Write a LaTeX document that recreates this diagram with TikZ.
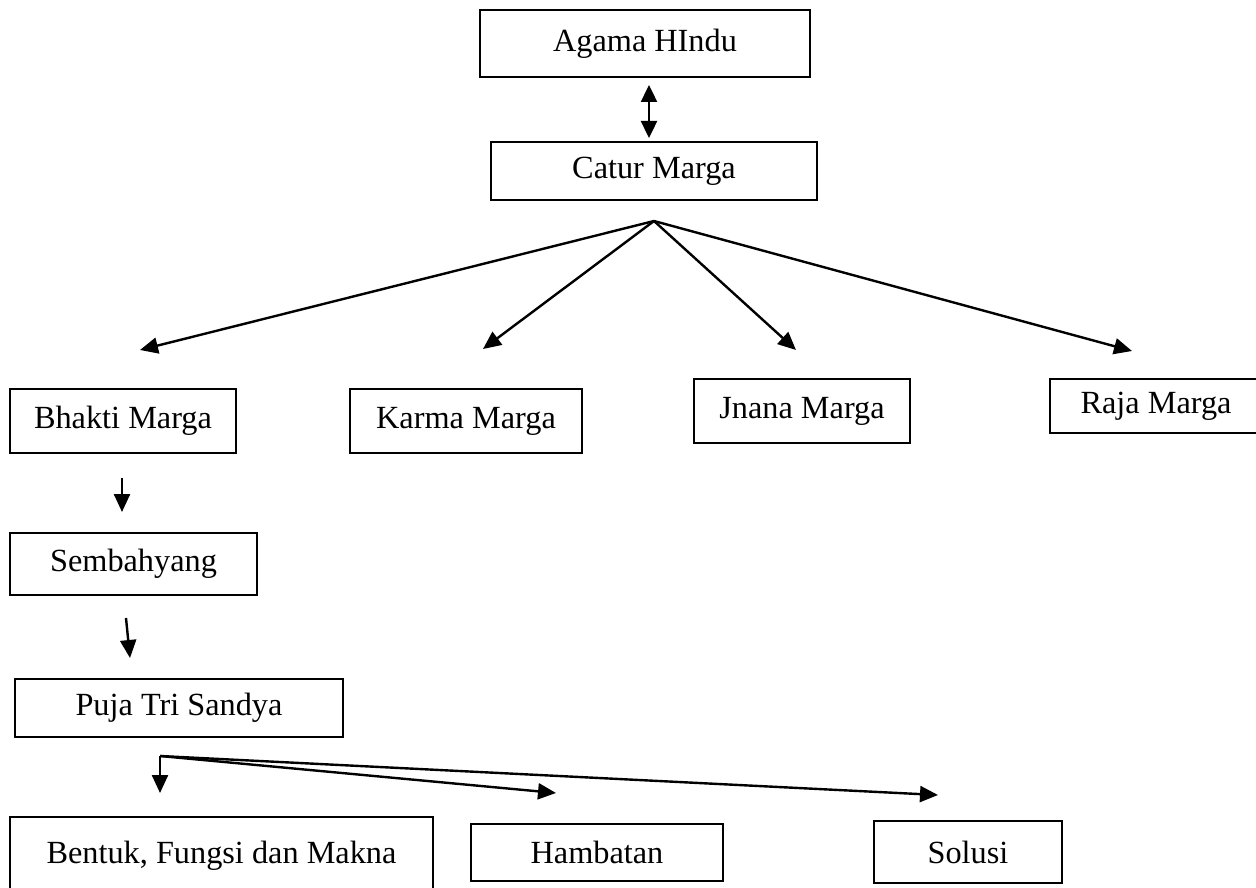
\documentclass[tikz,border=0pt]{standalone}
\usepackage{fontspec}
\setmainfont{Liberation Serif}
\usetikzlibrary{arrows.meta}
\tikzset{
  box/.style={draw, line width=1.8pt, inner sep=0pt, font=\fontsize{32.3}{38}\selectfont},
  arr/.style={line width=2.4pt, -{Triangle[length=18pt,width=16pt]}},
  darr/.style={line width=2.4pt, {Triangle[length=17pt,width=16pt]}-{Triangle[length=17pt,width=16pt]}}
}
\begin{document}
\begin{tikzpicture}[x=1pt,y=-1pt]
\useasboundingbox (0,0) rectangle (1256,888);
\fill[white] (0,0) rectangle (1256,888);
% boxes
\node[box, minimum width=330, minimum height=67] (agama) at (645,43.5) {Agama HIndu};
\node[box, minimum width=326, minimum height=58] (catur) at (654,171) {Catur Marga};
\node[box, minimum width=226, minimum height=64] (bhakti) at (123,421) {Bhakti Marga};
\node[box, minimum width=232, minimum height=64] (karma) at (466,421) {Karma Marga};
\node[box, minimum width=216, minimum height=64] (jnana) at (802,411) {Jnana Marga};
\node[box, minimum width=212, minimum height=54] (raja) at (1156,406) {Raja Marga};
\node[box, minimum width=247, minimum height=62] (semb) at (133.5,564) {Sembahyang};
\node[box, minimum width=328, minimum height=58] (puja) at (179,708) {Puja Tri Sandya};
\node[box, minimum width=423, minimum height=78] (bentuk) at (221.5,856) {Bentuk, Fungsi dan Makna};
\node[box, minimum width=252, minimum height=57] (hamb) at (597,852.5) {Hambatan};
\node[box, minimum width=188, minimum height=62] (solusi) at (968,852) {Solusi};
% connector points
\coordinate (d1) at (649,85);
\coordinate (d2) at (649,138);
\coordinate (apex) at (654,221);
\coordinate (tb) at (140,350);
\coordinate (tk) at (483,349);
\coordinate (tj) at (796,350);
\coordinate (tr) at (1132,351);
\coordinate (s1) at (122,478);
\coordinate (s2) at (122,512);
\coordinate (p1) at (126,618);
\coordinate (p2) at (130,658);
\coordinate (apex2) at (160,756);
\coordinate (tbe) at (160,793);
\coordinate (tha) at (556,793);
\coordinate (tso) at (938,795);
% connectors
\draw[darr] (d1) -- (d2);
\draw[arr] (apex) -- (tb);
\draw[arr] (apex) -- (tk);
\draw[arr] (apex) -- (tj);
\draw[arr] (apex) -- (tr);
\draw[arr] (s1) -- (s2);
\draw[arr] (p1) -- (p2);
\draw[arr] (apex2) -- (tbe);
\draw[arr] (apex2) -- (tha);
\draw[arr] (apex2) -- (tso);
\end{tikzpicture}
\end{document}
